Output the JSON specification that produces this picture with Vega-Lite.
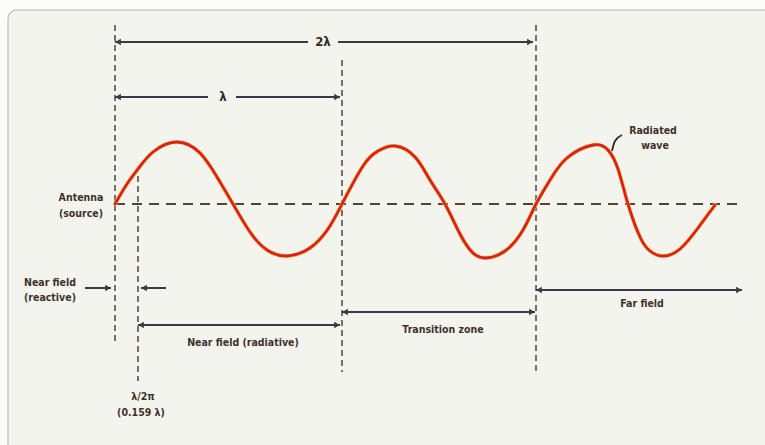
{
  "$schema": "https://vega.github.io/schema/vega-lite/v6.json",
  "width": 765,
  "height": 445,
  "autosize": {"type": "none"},
  "padding": 0,
  "background": "#fbfbf9",
  "config": {"view": {"stroke": null}},
  "datasets": {
    "frame": [{"x": 8, "y": 10, "x2": 800, "y2": 480}],
    "vlines": [
      {"x": 115, "y": 25, "y2": 345},
      {"x": 138, "y": 166, "y2": 381},
      {"x": 342, "y": 60, "y2": 372},
      {"x": 536, "y": 25, "y2": 372}
    ],
    "center": [{"x": 115, "x2": 742, "y": 204}],
    "arrows": [
      {"x": 115, "x2": 308, "y": 42},
      {"x": 338, "x2": 533, "y": 42},
      {"x": 115, "x2": 208, "y": 97},
      {"x": 236, "x2": 340, "y": 97},
      {"x": 85, "x2": 111, "y": 288},
      {"x": 141, "x2": 166, "y": 288},
      {"x": 138, "x2": 340, "y": 325},
      {"x": 342, "x2": 535, "y": 312},
      {"x": 536, "x2": 742, "y": 290}
    ],
    "headsLeft": [
      {"x": 118, "y": 42}, {"x": 118, "y": 97}, {"x": 144, "y": 288},
      {"x": 141, "y": 325}, {"x": 345, "y": 312}, {"x": 539, "y": 290}
    ],
    "headsRight": [
      {"x": 530, "y": 42}, {"x": 337, "y": 97}, {"x": 108, "y": 288},
      {"x": 337, "y": 325}, {"x": 532, "y": 312}, {"x": 739, "y": 290}
    ],
    "wave": [
      {"x": 115, "y": 204}, {"x": 127, "y": 184}, {"x": 138, "y": 169}, {"x": 153, "y": 152},
      {"x": 177, "y": 142}, {"x": 200, "y": 153}, {"x": 217, "y": 177}, {"x": 233, "y": 204},
      {"x": 250, "y": 232}, {"x": 267, "y": 250}, {"x": 287, "y": 256}, {"x": 310, "y": 248},
      {"x": 328, "y": 229}, {"x": 342, "y": 204}, {"x": 363, "y": 166}, {"x": 378, "y": 151},
      {"x": 395, "y": 146}, {"x": 415, "y": 157}, {"x": 430, "y": 180}, {"x": 445, "y": 204},
      {"x": 460, "y": 234}, {"x": 472, "y": 252}, {"x": 485, "y": 258}, {"x": 505, "y": 251},
      {"x": 523, "y": 230}, {"x": 536, "y": 204}, {"x": 550, "y": 180}, {"x": 567, "y": 158},
      {"x": 593, "y": 145}, {"x": 608, "y": 150}, {"x": 618, "y": 169}, {"x": 628, "y": 204},
      {"x": 640, "y": 237}, {"x": 650, "y": 251}, {"x": 663, "y": 256}, {"x": 680, "y": 249},
      {"x": 698, "y": 228}, {"x": 715, "y": 205}
    ],
    "leader": [{"x": 612, "y": 151}, {"x": 615, "y": 141}, {"x": 622, "y": 135}],
    "bigLabels": [
      {"x": 323, "y": 42, "t": "2λ"},
      {"x": 223, "y": 97, "t": "λ"}
    ],
    "labels": [
      {"x": 81, "y": 198, "t": "Antenna"},
      {"x": 81, "y": 214, "t": "(source)"},
      {"x": 653, "y": 131, "t": "Radiated"},
      {"x": 655, "y": 146, "t": "wave"},
      {"x": 50, "y": 283, "t": "Near field"},
      {"x": 50, "y": 298, "t": "(reactive)"},
      {"x": 243, "y": 343, "t": "Near field (radiative)"},
      {"x": 443, "y": 330, "t": "Transition zone"},
      {"x": 642, "y": 304, "t": "Far field"},
      {"x": 143, "y": 397, "t": "λ/2π"},
      {"x": 141, "y": 413, "t": "(0.159 λ)"}
    ]
  },
  "encoding": {
    "x": {"field": "x", "type": "quantitative", "scale": {"domain": [0, 765], "nice": false, "zero": false}, "axis": null},
    "y": {"field": "y", "type": "quantitative", "scale": {"domain": [0, 445], "reverse": true, "nice": false, "zero": false}, "axis": null}
  },
  "layer": [
    {
      "data": {"name": "frame"},
      "mark": {"type": "rect", "fill": "#f4f4ef", "stroke": "#c9c9c4", "strokeWidth": 1.5, "cornerRadius": 9, "clip": false},
      "encoding": {"x2": {"field": "x2"}, "y2": {"field": "y2"}}
    },
    {
      "data": {"name": "vlines"},
      "mark": {"type": "rule", "stroke": "#4a443c", "strokeWidth": 1.5, "strokeDash": [6, 4]},
      "encoding": {"y2": {"field": "y2"}}
    },
    {
      "data": {"name": "center"},
      "mark": {"type": "rule", "stroke": "#544430", "strokeWidth": 2, "strokeDash": [10, 7]},
      "encoding": {"x2": {"field": "x2"}}
    },
    {
      "data": {"name": "arrows"},
      "mark": {"type": "rule", "stroke": "#3d3848", "strokeWidth": 2},
      "encoding": {"x2": {"field": "x2"}}
    },
    {
      "data": {"name": "headsLeft"},
      "mark": {"type": "point", "shape": "triangle-left", "filled": true, "size": 45, "color": "#3d3848", "opacity": 1}
    },
    {
      "data": {"name": "headsRight"},
      "mark": {"type": "point", "shape": "triangle-right", "filled": true, "size": 45, "color": "#3d3848", "opacity": 1}
    },
    {
      "data": {"name": "wave"},
      "mark": {"type": "line", "interpolate": "natural", "stroke": "#f5c860", "strokeWidth": 4, "strokeCap": "round"},
      "encoding": {"order": {"field": "x", "type": "quantitative"}}
    },
    {
      "data": {"name": "wave"},
      "mark": {"type": "line", "interpolate": "natural", "stroke": "#d8221c", "strokeWidth": 2.8, "strokeCap": "round"},
      "encoding": {"order": {"field": "x", "type": "quantitative"}}
    },
    {
      "data": {"name": "leader"},
      "mark": {"type": "line", "interpolate": "monotone", "stroke": "#2e2a2a", "strokeWidth": 1.8},
      "encoding": {}
    },
    {
      "data": {"name": "bigLabels"},
      "mark": {"type": "text", "font": "DejaVu Sans Condensed, Liberation Sans Narrow, DejaVu Sans, sans-serif", "fontWeight": "bold", "fontSize": 13, "color": "#33292e", "align": "center", "baseline": "middle"},
      "encoding": {"text": {"field": "t"}}
    },
    {
      "data": {"name": "labels"},
      "mark": {"type": "text", "font": "DejaVu Sans Condensed, Liberation Sans Narrow, DejaVu Sans, sans-serif", "fontWeight": "bold", "fontSize": 10.5, "color": "#3f302a", "align": "center", "baseline": "middle"},
      "encoding": {"text": {"field": "t"}}
    }
  ]
}
